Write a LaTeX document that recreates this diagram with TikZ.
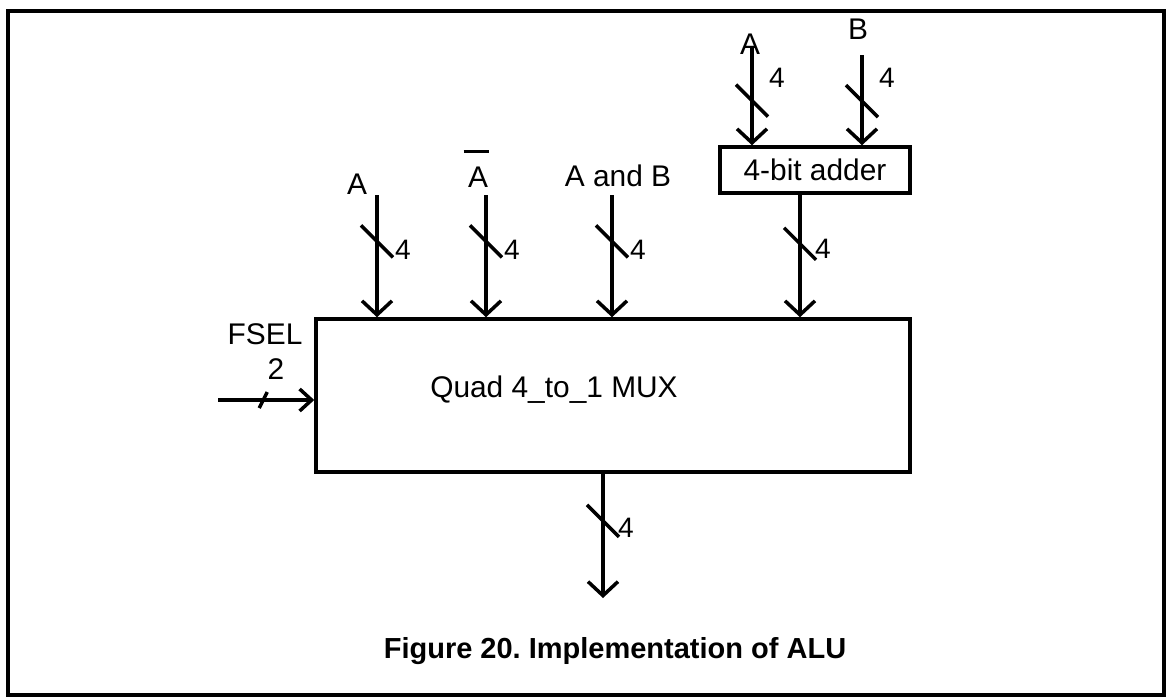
\documentclass[tikz,border=0pt]{standalone}
\usepackage{fontspec}
\setmainfont{Liberation Sans}
\usetikzlibrary{arrows.meta, positioning, calc}

\begin{document}
\begin{tikzpicture}[
    x=0.2mm, y=-0.2mm,
    every node/.style={inner sep=0pt, font=\fontsize{17}{20}\selectfont},
    busarrow/.style={-{Straight Barb[length=2.8mm,width=6mm]}, line width=2pt},
    selarrow/.style={-{Straight Barb[length=2.4mm,width=4.4mm]}, line width=2pt},
    slash/.style={line width=2pt},
    buswidth/.style={font=\fontsize{16}{19}\selectfont},
    blockbox/.style={rectangle, draw, line width=2pt}
]
\useasboundingbox (0,0) rectangle (1167,698);
\draw[line width=2pt] (8,11) rectangle (1164,695);

% blocks
\node[blockbox, minimum width=118.8mm, minimum height=30.6mm, name=mux] at (613,395.5) {};
\node[anchor=base, name=muxtext] at (554,397) {Quad 4\_to\_1 MUX};
\node[blockbox, minimum width=38mm, minimum height=9.2mm, name=adder] at (815,170) {4-bit adder};

% input labels
\node[anchor=south, name=lblA] at (357,195) {A};
\node[anchor=south, name=lblAbar] at (478,188) {\makebox[0pt][l]{\hspace{-0.15em}\rule[1.15em]{0.85em}{1.8pt}}A};
\node[anchor=south, name=lblAB] at (618,187) {A and B};
\node[anchor=south, name=lblAddA] at (750,55) {A};
\node[anchor=south, name=lblAddB] at (858,40) {B};
\node[anchor=south, name=lblFsel] at (265,345) {FSEL};
\node[anchor=south, name=lblSel] at (276,380) {2};

% 4-bit buses into the MUX
\foreach \name/\x in {busA/377, busAbar/486, busAB/612}{
    \coordinate (\name) at (\x,195);
    \draw[busarrow] (\name) -- coordinate[pos=0.38] (\name-s) (\name |- mux.north);
    \draw[slash] (\name-s) +(-16,-16) -- +(16,16);
    \path (\name-s) ++(26,8) node[buswidth, name=\name-w] {4};
}

% operands of the adder
\foreach \name/\x/\y/\p in {addA/752/46/0.55, addB/862/55/0.51}{
    \coordinate (\name) at (\x,\y);
    \draw[busarrow] (\name) -- coordinate[pos=\p] (\name-s) (\name |- adder.north);
    \draw[slash] (\name-s) +(-16,-16) -- +(16,16);
    \path (\name-s) ++(25,-23) node[buswidth, name=\name-w] {4};
}

% sum into the MUX
\coordinate (addout) at ([xshift=-3mm]adder.south);
\draw[busarrow] (addout) -- coordinate[pos=0.4] (addout-s) (addout |- mux.north);
\draw[slash] (addout-s) +(-16,-16) -- +(16,16);
\path (addout-s) ++(23,5) node[buswidth, name=addout-w] {4};

% result
\coordinate (outbus) at (603,598);
\draw[busarrow] (outbus |- mux.south) -- coordinate[pos=0.38] (outbus-s) (outbus);
\draw[slash] (outbus-s) +(-16,-16) -- +(16,16);
\path (outbus-s) ++(23,7) node[buswidth, name=outbus-w] {4};

% function select
\coordinate (fsel) at (218,400);
\draw[selarrow] (fsel) -- coordinate[pos=0.47] (fsel-s) (fsel -| mux.west);
\draw[slash] (fsel-s) +(-4,8) -- +(4,-8);

\node[anchor=base, font=\fontsize{16.5}{20}\selectfont\bfseries, name=caption] at (615,658) {Figure 20.\ Implementation of ALU};

\end{tikzpicture}
\end{document}
